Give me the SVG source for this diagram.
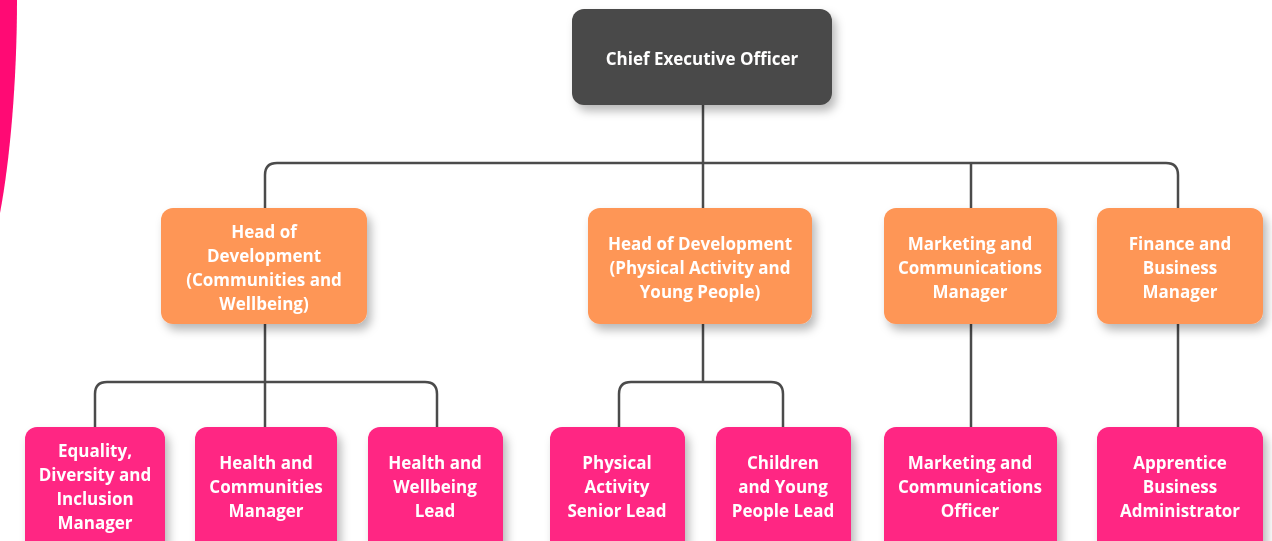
<svg xmlns="http://www.w3.org/2000/svg" width="1272" height="541" viewBox="0 0 1272 541">
  <style>
    .box { stroke: none; }
    .ceo { fill: #4a4948; }
    .head { fill: #fe9657; }
    .staff { fill: #ff2683; }
    .label { font-family: "Open Sans", Lato, "Liberation Sans", sans-serif; font-weight: 700; font-size: 17px; fill: #ffffff; text-anchor: middle; }
    .wire { fill: none; stroke: #4b4b4b; stroke-width: 2.5; }
  </style>
  <defs>
    <filter id="shadow" x="-20%" y="-20%" width="150%" height="160%">
      <feDropShadow dx="4" dy="6" stdDeviation="5" flood-color="#000000" flood-opacity="0.28"/>
    </filter>
  </defs>

  <rect width="1272" height="541" fill="#ffffff"/>

  <!-- decorative arc on the left edge -->
  <path d="M0,0 L17,0 C17,80 10,160 0,213 Z" fill="#ff0a74"/>

  <!-- connectors -->
  <g id="connectors" class="wire">
    <path d="M703,105 V163"/>
    <path d="M265,208 V175 Q265,163 277,163 H1166 Q1178,163 1178,175 V208"/>
    <path d="M703,163 V208"/>
    <path d="M971,163 V208"/>
    <path d="M265,324 V427"/>
    <path d="M95,427 V394 Q95,382 107,382 H425 Q437,382 437,394 V427"/>
    <path d="M703,324 V382"/>
    <path d="M619,427 V394 Q619,382 631,382 H771 Q783,382 783,394 V427"/>
    <path d="M971,324 V427"/>
    <path d="M1178,324 V427"/>
  </g>

  <g id="ceo" filter="url(#shadow)">
    <rect class="box ceo" x="572" y="9" width="260" height="96" rx="12"/>
    <text class="label" x="702" y="65">Chief Executive Officer</text>
  </g>

  <g id="head-communities" filter="url(#shadow)">
    <rect class="box head" x="161" y="208" width="206" height="116" rx="12"/>
    <text class="label" x="264" y="238">Head of</text>
    <text class="label" x="264" y="262">Development</text>
    <text class="label" x="264" y="286">(Communities and</text>
    <text class="label" x="264" y="310">Wellbeing)</text>
  </g>

  <g id="head-physical" filter="url(#shadow)">
    <rect class="box head" x="588" y="208" width="224" height="116" rx="12"/>
    <text class="label" x="700" y="250">Head of Development</text>
    <text class="label" x="700" y="274">(Physical Activity and</text>
    <text class="label" x="700" y="298">Young People)</text>
  </g>

  <g id="marketing-manager" filter="url(#shadow)">
    <rect class="box head" x="884" y="208" width="173" height="116" rx="12"/>
    <text class="label" x="970" y="250">Marketing and</text>
    <text class="label" x="970" y="274">Communications</text>
    <text class="label" x="970" y="298">Manager</text>
  </g>

  <g id="finance-manager" filter="url(#shadow)">
    <rect class="box head" x="1097" y="208" width="166" height="116" rx="12"/>
    <text class="label" x="1180" y="250">Finance and</text>
    <text class="label" x="1180" y="274">Business</text>
    <text class="label" x="1180" y="298">Manager</text>
  </g>

  <g id="edi-manager" filter="url(#shadow)">
    <rect class="box staff" x="25" y="427" width="140" height="140" rx="12"/>
    <text class="label" x="95" y="457">Equality,</text>
    <text class="label" x="95" y="481">Diversity and</text>
    <text class="label" x="95" y="505">Inclusion</text>
    <text class="label" x="95" y="529">Manager</text>
  </g>

  <g id="health-communities" filter="url(#shadow)">
    <rect class="box staff" x="195" y="427" width="142" height="140" rx="12"/>
    <text class="label" x="266" y="469">Health and</text>
    <text class="label" x="266" y="493">Communities</text>
    <text class="label" x="266" y="517">Manager</text>
  </g>

  <g id="health-wellbeing" filter="url(#shadow)">
    <rect class="box staff" x="368" y="427" width="135" height="140" rx="12"/>
    <text class="label" x="435" y="469">Health and</text>
    <text class="label" x="435" y="493">Wellbeing</text>
    <text class="label" x="435" y="517">Lead</text>
  </g>

  <g id="physical-activity" filter="url(#shadow)">
    <rect class="box staff" x="550" y="427" width="135" height="140" rx="12"/>
    <text class="label" x="617" y="469">Physical</text>
    <text class="label" x="617" y="493">Activity</text>
    <text class="label" x="617" y="517">Senior Lead</text>
  </g>

  <g id="children-young-people" filter="url(#shadow)">
    <rect class="box staff" x="716" y="427" width="135" height="140" rx="12"/>
    <text class="label" x="783" y="469">Children</text>
    <text class="label" x="783" y="493">and Young</text>
    <text class="label" x="783" y="517">People Lead</text>
  </g>

  <g id="marketing-officer" filter="url(#shadow)">
    <rect class="box staff" x="884" y="427" width="173" height="140" rx="12"/>
    <text class="label" x="970" y="469">Marketing and</text>
    <text class="label" x="970" y="493">Communications</text>
    <text class="label" x="970" y="517">Officer</text>
  </g>

  <g id="apprentice" filter="url(#shadow)">
    <rect class="box staff" x="1097" y="427" width="166" height="140" rx="12"/>
    <text class="label" x="1180" y="469">Apprentice</text>
    <text class="label" x="1180" y="493">Business</text>
    <text class="label" x="1180" y="517">Administrator</text>
  </g>
</svg>
